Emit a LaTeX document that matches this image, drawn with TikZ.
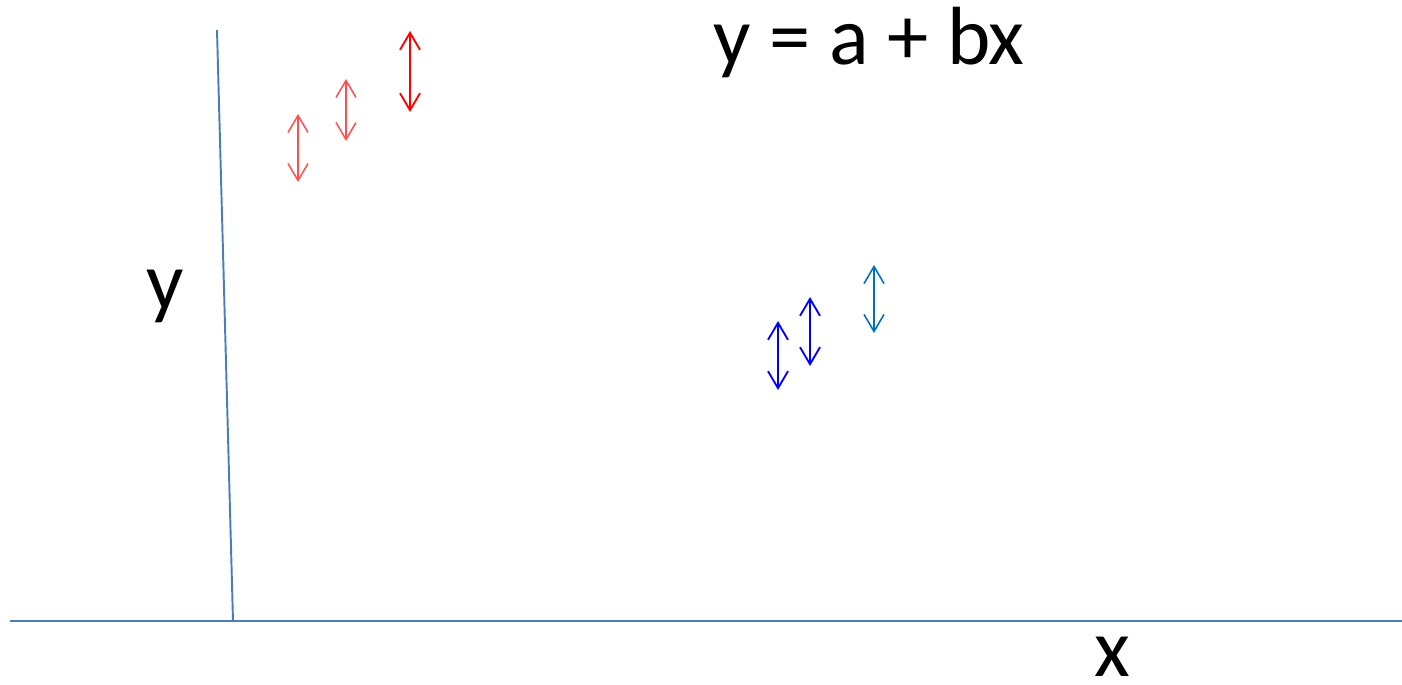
\documentclass[tikz,border=0pt]{standalone}
\usepackage{fontspec}
\setmainfont{Carlito}
\usetikzlibrary{arrows.meta}

\definecolor{axisblue}{RGB}{74,126,187}
\definecolor{lightred}{RGB}{255,80,80}
\definecolor{puresred}{RGB}{255,0,0}
\definecolor{pureblue}{RGB}{0,0,255}
\definecolor{midblue}{RGB}{0,112,192}

\tikzset{
  axis/.style={axisblue, line width=1.1pt},
  errbar/.style={line width=1.05pt, {Straight Barb[length=0.34cm, width=0.40cm]}-{Straight Barb[length=0.34cm, width=0.40cm]}},
  lbl/.style={font=\fontsize{47}{52}\selectfont, anchor=base, inner sep=0pt}
}

\begin{document}
\begin{tikzpicture}[x=0.02cm, y=-0.02cm]
   \useasboundingbox (0,0) rectangle (1402,684);

   % axes
   \coordinate (ytop) at (217,30);
   \coordinate (ybot) at (233,621);
   \coordinate (xleft) at (10,621);
   \coordinate (xright) at (1402,621);
   \draw[axis] (ytop) -- (ybot);
   \draw[axis] (xleft) -- (xright);

   % error bars, upper left
   \draw[errbar, lightred, line width=0.85pt] (298,114) -- (298,182);
   \draw[errbar, lightred, line width=0.85pt] (346,79) -- (346,141);
   \draw[errbar, puresred] (410,31) -- (410,112);

   % error bars, middle
   \draw[errbar, pureblue] (778,321) -- (778,390);
   \draw[errbar, pureblue] (810,297) -- (810,366);
   \draw[errbar, midblue, line width=0.9pt] (874,265) -- (874,333);

   % labels
   \node[lbl] (eqn) at (869,64) {y = a + bx};
   \node[lbl] (ylab) at (165,309) {y};
   \node[lbl] (xlab) at (1112,676) {x};

\end{tikzpicture}
\end{document}
